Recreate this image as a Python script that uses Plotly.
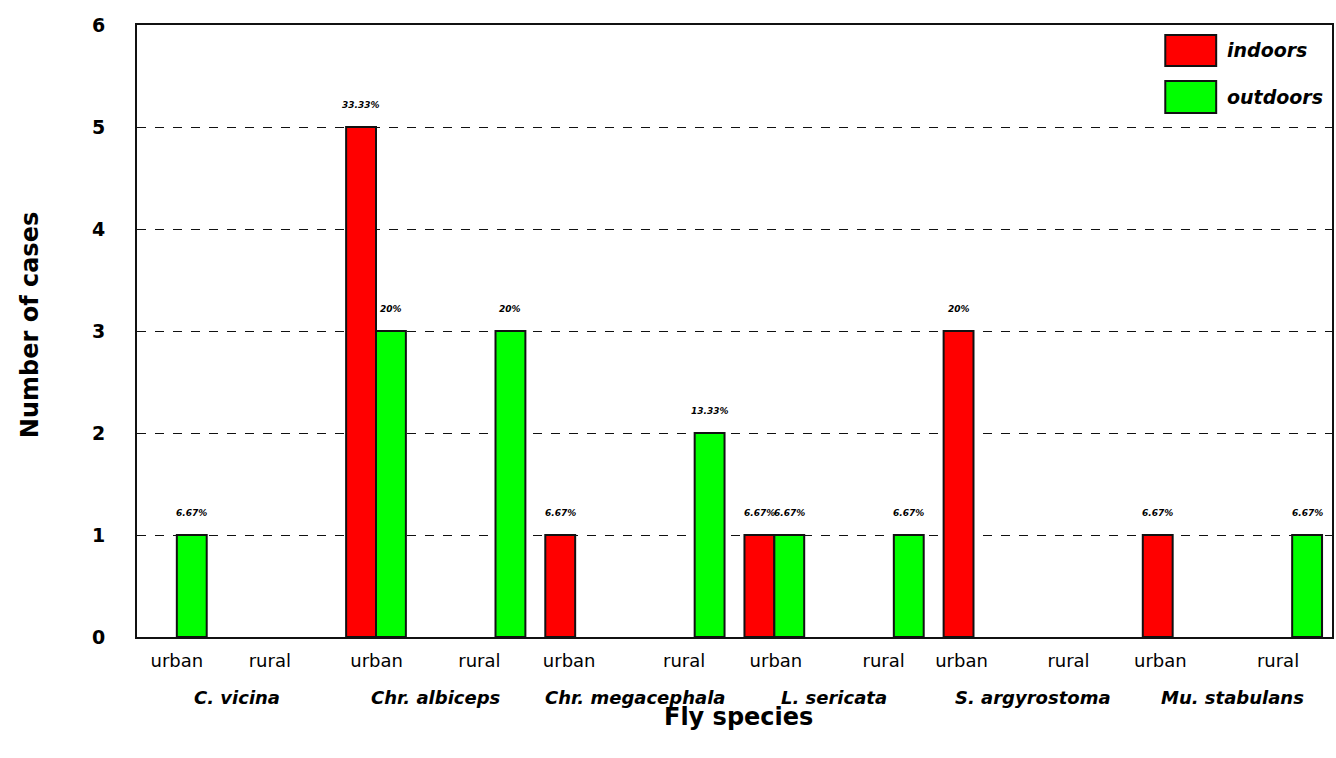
import plotly.graph_objects as go

species = ["C. vicina", "Chr. albiceps", "Chr. megacephala", "L. sericata", "S. argyrostoma", "Mu. stabulans"]
settings = ["urban", "rural"]

# values per species: [urban, rural]
indoors = [[0, 0], [5, 0], [1, 0], [1, 0], [3, 0], [1, 0]]
outdoors = [[1, 0], [3, 3], [0, 2], [1, 1], [0, 0], [0, 1]]

indoors_pct = [["", ""], ["33.33%", ""], ["6.67%", ""], ["6.67%", ""], ["20%", ""], ["6.67%", ""]]
outdoors_pct = [["6.67%", ""], ["20%", "20%"], ["", "13.33%"], ["6.67%", "6.67%"], ["", ""], ["", "6.67%"]]

# layout positions (axis units): each species block is 1 unit wide
setting_offset = {"urban": 0.2, "rural": 0.8}
bar_w = 0.15
tick_label_pos = [0.2, 0.667, 1.203, 1.719, 2.17, 2.747, 3.208, 3.749, 4.14, 4.677, 5.138, 5.729]

RED = "#ff0000"
GREEN = "#00ff00"

W, H = 1336, 758
PL, PT = 137, 25          # plot area left/top in window pixels
PW, PH = 1197, 612        # plot area size

fig = go.Figure()
annotations = []


def px_x(x):
    return (x - PL) / PW


def px_y(y):
    return (PT + PH - y) / PH


def build(values, pcts, color, offset):
    xs, ys, txt = [], [], []
    for i, sp in enumerate(species):
        for j, st in enumerate(settings):
            v = values[i][j]
            if v > 0:
                xs.append(i + setting_offset[st])
                ys.append(v)
                txt.append(pcts[i][j])
    fig.add_trace(go.Bar(
        x=xs, y=ys, width=[bar_w] * len(xs), offset=offset,
        marker=dict(color=color, line=dict(color="#111111", width=2)),
        showlegend=False, hoverinfo="x+y",
    ))
    for x, y, t in zip(xs, ys, txt):
        annotations.append(dict(
            x=x + offset + bar_w / 2, y=y, xref="x", yref="y", text="<b><i>" + t + "</i></b>",
            showarrow=False, yshift=22, font=dict(family="DejaVu Sans", size=9, color="black"),
        ))


build(indoors, indoors_pct, RED, -bar_w)
build(outdoors, outdoors_pct, GREEN, 0.0)

# species labels
for i, sp in enumerate(species):
    annotations.append(dict(
        x=i + 0.5, y=0, xref="x", yref="paper", yshift=-60, yanchor="middle",
        text="<b><i>" + sp + "</i></b>",
        showarrow=False, font=dict(family="DejaVu Sans", size=18, color="black"),
    ))

# axis titles
annotations.append(dict(
    x=px_x(740), y=0, xref="paper", yref="paper", yshift=-80, yanchor="middle",
    text="<b>Fly species</b>",
    showarrow=False, font=dict(family="DejaVu Sans", size=24, color="black"),
))
annotations.append(dict(
    x=px_x(30), y=px_y(325), xref="paper", yref="paper", textangle=-90,
    xanchor="center", yanchor="middle",
    text="<b>Number of cases</b>", showarrow=False,
    font=dict(family="DejaVu Sans", size=24, color="black"),
))

# legend (drawn)
shapes = []
legend_items = [("indoors", RED, 35, 66), ("outdoors", GREEN, 81, 113)]
for name, col, ytop, ybot in legend_items:
    shapes.append(dict(
        type="rect", xref="paper", yref="paper",
        x0=px_x(1167), x1=px_x(1218), y0=px_y(ybot), y1=px_y(ytop),
        fillcolor=col, line=dict(color="#111111", width=2),
    ))
    annotations.append(dict(
        x=px_x(1227), y=px_y((ytop + ybot) / 2), xref="paper", yref="paper",
        xanchor="left", yanchor="middle", text="<b><i>" + name + "</i></b>", showarrow=False,
        font=dict(family="DejaVu Sans", size=19, color="black"),
    ))

fig.update_layout(
    width=W, height=H,
    margin=dict(l=PL, r=W - (PL + PW), t=PT, b=H - (PT + PH)),
    paper_bgcolor="white", plot_bgcolor="white",
    barmode="overlay",
    annotations=annotations, shapes=shapes,
    xaxis=dict(
        range=[0, 6], tickmode="array", tickvals=tick_label_pos,
        ticktext=[settings[k % 2] for k in range(len(tick_label_pos))],
        showgrid=False, zeroline=False, showline=True, mirror=True,
        linecolor="#111111", linewidth=2, ticks="",
        tickfont=dict(family="DejaVu Sans", size=18, color="black"),
        ticklabelstandoff=6,
    ),
    yaxis=dict(
        range=[0, 6], tickmode="array", tickvals=[0, 1, 2, 3, 4, 5, 6],
        ticktext=["<b>%d</b>" % v for v in range(7)],
        showgrid=True, gridcolor="#111111", griddash="dash", gridwidth=1,
        zeroline=False, showline=True, mirror=True, linecolor="#111111", linewidth=2, ticks="",
        tickfont=dict(family="DejaVu Sans", size=19, color="black"),
        ticklabelstandoff=26,
    ),
)

fig.write_html(
    "out.html",
    config={"displayModeBar": False},
    post_script="document.body.style.margin='0';document.body.style.overflow='hidden';",
)
